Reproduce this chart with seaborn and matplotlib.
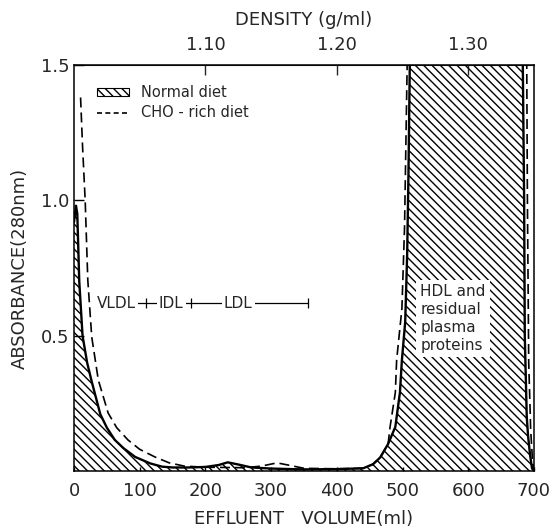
import matplotlib as mpl
mpl.use('Agg')
import matplotlib.pyplot as plt
from matplotlib.patches import Patch
from matplotlib.lines import Line2D
import seaborn as sns

# effluent volume (ml) vs absorbance at 280 nm
normal_vol = [0, 3, 5, 8, 13, 20, 27, 40, 50, 62, 75, 93, 116, 134, 150, 175, 200, 220,
              234, 250, 270, 300, 330, 350, 400, 440, 455, 466, 478, 489, 496, 499, 504,
              507, 509, 511, 515, 600, 680, 683, 685, 686, 689, 691, 694, 697, 700]
normal_abs = [0.92, 0.98, 0.95, 0.70, 0.50, 0.40, 0.33, 0.21, 0.16, 0.115, 0.085, 0.052,
              0.028, 0.016, 0.013, 0.013, 0.015, 0.022, 0.032, 0.024, 0.013, 0.009, 0.007,
              0.006, 0.007, 0.010, 0.025, 0.050, 0.100, 0.163, 0.29, 0.41, 0.55, 0.80, 1.10,
              1.50, 2.0, 2.0, 2.0, 1.50, 1.00, 0.50, 0.20, 0.13, 0.06, 0.01, 0.0]

cho_vol = [10, 13, 17, 21, 27, 37, 52, 65, 82, 100, 123, 145, 168, 200, 230, 260, 285,
           309, 330, 350, 400, 440, 455, 466, 478, 481, 489, 491, 499, 503, 507, 510,
           600, 686, 689, 690, 692, 695, 698, 700]
cho_abs = [1.38, 1.20, 1.00, 0.705, 0.495, 0.336, 0.214, 0.16, 0.115, 0.08, 0.052, 0.03,
           0.018, 0.014, 0.013, 0.012, 0.018, 0.030, 0.020, 0.010, 0.008, 0.010, 0.025,
           0.050, 0.100, 0.163, 0.29, 0.41, 0.60, 0.90, 1.50, 2.0, 2.0, 2.0, 1.50, 1.00,
           0.40, 0.15, 0.03, 0.0]

# lipoprotein fraction marker
fraction_labels = ['VLDL', 'IDL', 'LDL']
fraction_label_vol = [35, 148, 250]
fraction_bounds = [110, 178, 356]
fraction_y = 0.62

vol_ticks = [0, 100, 200, 300, 400, 500, 600, 700]
abs_ticks = [0.5, 1.0, 1.5]
density_ticks = [200, 400, 600]
density_labels = ['1.10', '1.20', '1.30']

sns.set_style('ticks')
plt.rcParams['font.family'] = ['DejaVu Sans']
plt.rcParams['hatch.linewidth'] = 1.0

fig = plt.figure(figsize=(5.56, 5.31), dpi=100)
ax = fig.add_axes([0.1331, 0.113, 0.8273, 0.7646])

ax.fill_between(normal_vol, normal_abs, 0, facecolor='none', edgecolor='black',
                hatch='\\\\\\\\', linewidth=0, zorder=1)
sns.lineplot(x=normal_vol, y=normal_abs, ax=ax, color='black', linewidth=1.7,
             sort=False, zorder=3)
sns.lineplot(x=cho_vol, y=cho_abs, ax=ax, color='black', linewidth=1.2,
             linestyle=(0, (6, 3)), sort=False, zorder=3)

# fraction ranges
ax.plot([fraction_label_vol[0] + 58, fraction_bounds[-1]], [fraction_y, fraction_y],
        color='black', linewidth=0.9, zorder=4)
ax.plot(fraction_bounds, [fraction_y] * len(fraction_bounds), linestyle='none',
        marker='|', markersize=7, markeredgewidth=0.9, color='black', zorder=4)
for i, (lab, v) in enumerate(zip(fraction_labels, fraction_label_vol)):
    ax.text(v, fraction_y, lab, fontsize=11, ha='left' if i == 0 else 'center',
            va='center', zorder=5,
            bbox=dict(facecolor='white', edgecolor='none', pad=1.5))

ax.text(527, 0.69, 'HDL and\nresidual\nplasma\nproteins', fontsize=11, ha='left',
        va='top', linespacing=1.25, zorder=5,
        bbox=dict(facecolor='white', edgecolor='none', pad=3))

ax.set_xlim(0, 700)
ax.set_ylim(0, 1.5)
ax.set_xticks(vol_ticks)
ax.set_yticks(abs_ticks)
ax.set_yticklabels(['0.5', '1.0', '1.5'])
ax.tick_params(axis='both', direction='in', labelsize=13, color='black')
ax.tick_params(axis='y', length=7, width=1.0, pad=3)
ax.tick_params(axis='x', length=3, width=1.0, pad=8)
for s in ax.spines.values():
    s.set_visible(True)
    s.set_linewidth(1.1)
    s.set_color('black')

ax.set_xlabel('EFFLUENT   VOLUME(ml)', fontsize=13, labelpad=7)
ax.set_ylabel('ABSORBANCE(280nm)', fontsize=13, labelpad=9)

top = ax.secondary_xaxis('top')
top.set_xticks(density_ticks, labels=density_labels)
top.tick_params(direction='in', length=7, width=1.0, labelsize=13, pad=8)
top.set_xlabel('DENSITY (g/ml)', fontsize=13, labelpad=8)

handles = [Patch(facecolor='white', edgecolor='black', hatch='\\\\\\\\', linewidth=0.8),
           Line2D([], [], color='black', linewidth=1.2, linestyle=(0, (3, 2)))]
ax.legend(handles, ['Normal diet', 'CHO - rich diet'], loc='upper left',
          bbox_to_anchor=(0.05, 0.95), frameon=False, fontsize=10.5,
          handlelength=2.2, handleheight=0.5, handletextpad=0.8, labelspacing=0.35,
          borderaxespad=0, borderpad=0)

fig.savefig('out.png', dpi=100)
